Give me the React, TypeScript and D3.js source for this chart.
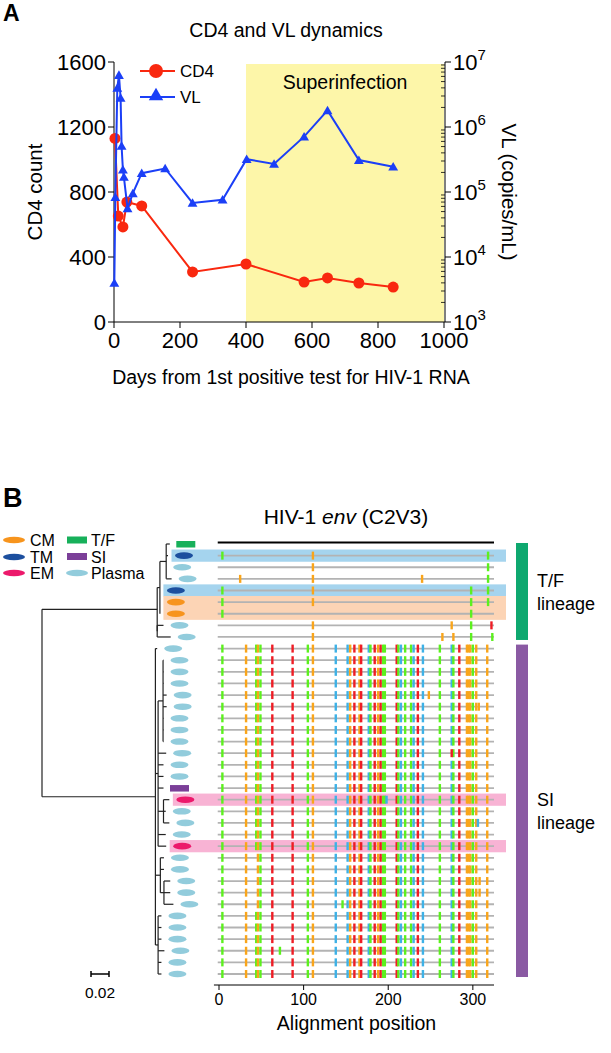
import React from "react";
import * as d3 from "d3";

// ---------- Panel A data ----------
const cd4Days = [3, 13, 27, 39, 84, 238, 400, 576, 647, 742, 846];
const cd4Counts = [1130, 652, 585, 738, 714, 308, 357, 246, 271, 240, 215];
const vlDays = [1, 4, 10, 15, 20, 23, 27, 30, 41, 57, 84, 155, 238, 329, 402, 485, 576, 647, 742, 846];
const vlCopies = [4000, 83000, 4.0e6, 6.3e6, 2.8e6, 5.1e5, 2.2e5, 1.7e5, 5.6e4, 9.5e4, 1.95e5, 2.3e5, 6.8e4, 7.6e4, 3.2e5, 2.7e5, 7.1e5, 1.8e6, 3.1e5, 2.45e5];
const dayTicks = [0, 200, 400, 600, 800, 1000];
const cd4Ticks = [0, 400, 800, 1200, 1600];
const vlExponents = [3, 4, 5, 6, 7];
const superinfectionDays = [400, 1000];

// ---------- Panel B data ----------
const rowTypes = [
  "TF", "TM", "Plasma", "Plasma", "TM", "CM", "CM", "Plasma", "Plasma",
  "Plasma", "Plasma", "Plasma", "Plasma", "Plasma", "Plasma", "Plasma", "Plasma", "Plasma", "Plasma", "Plasma", "Plasma",
  "SI", "EM", "Plasma", "Plasma", "Plasma", "EM",
  "Plasma", "Plasma", "Plasma", "Plasma", "Plasma", "Plasma", "Plasma", "Plasma", "Plasma", "Plasma", "Plasma",
];
const tfLineageRows = [0, 8];
const siLineageRows = [9, 37];
const highlightRows = [[1], [4], [5, 6], [22], [26]];

type TreeNode = { len: number; row?: number; children?: TreeNode[] };
const leaf = (row: number, len: number): TreeNode => ({ row, len });
const treeData: TreeNode = {
  len: 0,
  children: [
    {
      len: 0.128,
      children: [
        {
          len: 0.003,
          children: [
            { len: 0.007, children: [leaf(0, 0.004), leaf(1, 0.002), leaf(2, 0), leaf(3, 0.006)] },
            leaf(4, 0), leaf(5, 0), leaf(6, 0),
          ],
        },
        { len: 0, children: [leaf(7, 0.007), leaf(8, 0.015)] },
      ],
    },
    {
      len: 0.126,
      children: [
        leaf(9, 0.002),
        {
          len: 0.003,
          children: [
            {
              len: 0.0055,
              children: [leaf(10, 0.0005), leaf(11, 0.0005), leaf(12, 0.0005), leaf(13, 0.004), leaf(14, 0.004), leaf(15, 0.0005), leaf(16, 0.0005), leaf(17, 0.0005)],
            },
            leaf(18, 0.009), leaf(19, 0.006), leaf(20, 0.006), leaf(21, 0.006),
            { len: 0.006, children: [leaf(22, 0.0065), leaf(23, 0.0025), leaf(24, 0.0065)] },
            leaf(25, 0.0085), leaf(26, 0.009),
          ],
        },
        {
          len: 0.0055,
          children: [leaf(27, 0.004), leaf(28, 0.004), { len: 0.004, children: [leaf(29, 0.007), leaf(30, 0.007), leaf(31, 0.0105)] }],
        },
        {
          len: 0.003,
          children: [leaf(32, 0.0037), leaf(33, 0.0037), leaf(34, 0.0037), leaf(35, 0.007), leaf(36, 0.0037), leaf(37, 0.0037)],
        },
      ],
    },
  ],
};

// mutations shared by the SI lineage: [alignment position, colour key]
const siPattern: [number, string][] = [
  [4, "G"], [32, "O"], [44, "G"], [46, "O"], [49, "G"], [63, "R"], [87, "R"], [105, "G"], [111, "O"],
  [138, "B"], [152, "B"], [155, "O"], [160, "R"], [166, "O"], [168, "R"], [177, "B"], [179, "G"], [184, "R"],
  [188, "O"], [191, "R"], [194, "G"], [196, "G"], [210, "R"], [212, "G"], [215, "B"], [220, "G"], [227, "G"],
  [230, "B"], [235, "R"], [241, "B"], [261, "G"], [275, "B"], [277, "G"], [284, "R"], [293, "O"], [295, "O"],
  [297, "O"], [300, "G"], [304, "O"], [317, "O"],
];
// mutations in T/F-lineage rows 1..8
const tfRowMarks: [number, string][][] = [
  [[4, "G"], [111, "O"], [318, "G"]],
  [[111, "O"], [318, "G"]],
  [[25, "O"], [111, "O"], [240, "O"], [318, "G"]],
  [[4, "G"], [111, "O"], [298, "G"], [318, "G"]],
  [[4, "G"], [111, "O"], [298, "G"], [318, "G"]],
  [[4, "G"], [298, "G"]],
  [[111, "O"], [275, "O"], [298, "G"], [322, "R"]],
  [[111, "O"], [264, "O"], [277, "O"], [298, "G"], [323, "G"]],
];
const siExtras: [number, number, string][] = [
  [13, 248, "O"], [14, 307, "O"], [18, 275, "R"], [22, 198, "B"], [24, 306, "B"],
  [29, 308, "O"], [30, 308, "O"], [31, 146, "G"], [35, 72, "G"],
];
const siMissing: [number, number][] = [
  [18, 275], [27, 44], [28, 44], [29, 44], [30, 44], [31, 44],
];
const alignTicks = [0, 100, 200, 300];
const alignLength = 325;

// ---------- styles ----------
const FONT = "Liberation Sans, Arial, Helvetica, sans-serif";
const mutColors: Record<string, string> = { G: "#5cf01e", O: "#f9a51b", R: "#ee1d25", B: "#3eb1e6" };
const typeColors: Record<string, string> = {
  TF: "#17b05a", SI: "#7b3f98", TM: "#1c4f9e", CM: "#f7941d", EM: "#ec196b", Plasma: "#92ccdc",
};
const bgColors: Record<string, string> = { TM: "#a5d4ee", CM: "#fcd4b5", EM: "#f8b3d4" };

function PanelA() {
  const x = d3.scaleLinear().domain([0, 1000]).range([114, 444]);
  const yL = d3.scaleLinear().domain([0, 1600]).range([322, 62]);
  const yR = d3.scaleLog().domain([1e3, 1e7]).range([322, 62]);
  const cd4Line = d3.line<number>().x((_, i) => x(cd4Days[i])).y((d) => yL(d))(cd4Counts) || "";
  const vlLine = d3.line<number>().x((_, i) => x(vlDays[i])).y((d) => yR(d))(vlCopies) || "";
  const tri = d3.symbol(d3.symbolTriangle, 42)() || "";
  const triLeg = d3.symbol(d3.symbolTriangle, 90)() || "";
  const minor: number[] = [];
  vlExponents.slice(0, -1).forEach((e) => {
    for (let m = 2; m <= 9; m++) minor.push(m * Math.pow(10, e));
  });
  const red = "#f9280f";
  const blue = "#1b3ff7";
  return (
    <g fontFamily={FONT}>
      <text x={3} y={21} fontSize={23} fontWeight="bold">A</text>
      <text x={286} y={37} fontSize={19.5} textAnchor="middle">CD4 and VL dynamics</text>
      <rect x={x(superinfectionDays[0])} y={64} width={x(superinfectionDays[1]) - x(superinfectionDays[0])} height={322 - 64} fill="#fdf6a9" />
      <text x={345} y={89} fontSize={19.5} textAnchor="middle">Superinfection</text>
      <line x1={114} x2={114} y1={62} y2={322} stroke="#000" strokeWidth={1} />
      <line x1={114} x2={445} y1={322} y2={322} stroke="#000" strokeWidth={1} />
      <line x1={445} x2={445} y1={62} y2={322} stroke="#000" strokeWidth={1} />
      {cd4Ticks.map((t) => (
        <g key={"l" + t}>
          <line x1={108} x2={114} y1={yL(t)} y2={yL(t)} stroke="#000" />
          <text x={106} y={yL(t) + 8} fontSize={22} textAnchor="end">{t}</text>
        </g>
      ))}
      {dayTicks.map((t) => (
        <g key={"b" + t}>
          <line x1={x(t)} x2={x(t)} y1={322} y2={328} stroke="#000" />
          <text x={x(t)} y={348} fontSize={22} textAnchor="middle">{t}</text>
        </g>
      ))}
      {vlExponents.map((e) => (
        <g key={"r" + e}>
          <line x1={445} x2={451} y1={yR(Math.pow(10, e))} y2={yR(Math.pow(10, e))} stroke="#000" />
          <text x={453} y={yR(Math.pow(10, e)) + 8} fontSize={22}>
            10<tspan dy={-10} fontSize={15}>{e}</tspan>
          </text>
        </g>
      ))}
      {minor.map((v) => (
        <line key={"m" + v} x1={441} x2={445} y1={yR(v)} y2={yR(v)} stroke="#000" strokeWidth={0.8} />
      ))}
      <text transform="translate(42,192) rotate(-90)" fontSize={20.5} textAnchor="middle">CD4 count</text>
      <text transform="translate(502,192) rotate(90)" fontSize={20.5} textAnchor="middle">VL (copies/mL)</text>
      <text x={291} y={384} fontSize={19.5} textAnchor="middle">Days from 1st positive test for HIV-1 RNA</text>
      <path d={cd4Line} fill="none" stroke={red} strokeWidth={2} />
      {cd4Counts.map((c, i) => (
        <circle key={"c" + i} cx={x(cd4Days[i])} cy={yL(c)} r={5.5} fill={red} />
      ))}
      <path d={vlLine} fill="none" stroke={blue} strokeWidth={2} />
      {vlCopies.map((v, i) => (
        <path key={"v" + i} d={tri} transform={`translate(${x(vlDays[i])},${yR(v) + 1})`} fill={blue} />
      ))}
      <line x1={140} x2={175} y1={71} y2={71} stroke={red} strokeWidth={2} />
      <circle cx={156} cy={71} r={7} fill={red} />
      <text x={180} y={77} fontSize={17}>CD4</text>
      <line x1={140} x2={175} y1={97} y2={97} stroke={blue} strokeWidth={2} />
      <path d={triLeg} transform="translate(156,96)" fill={blue} />
      <text x={180} y={103} fontSize={17}>VL</text>
    </g>
  );
}

type Seg = { x1: number; y1: number; x2: number; y2: number };
type Tip = { row: number; x: number; y: number };

function PanelB() {
  const rowY = d3.scaleLinear().domain([0, 37]).range([544, 974]);
  const xA = d3.scaleLinear().domain([0, alignLength]).range([219, 494]);
  const xT = d3.scaleLinear().domain([0, 0.02]).range([42, 60]);

  const segs: Seg[] = [];
  const tips: Tip[] = [];
  const layout = (n: TreeNode, depth: number): { x: number; y: number } => {
    const d = depth + n.len;
    const nx = xT(d);
    if (n.row !== undefined) {
      const t = { row: n.row, x: nx, y: rowY(n.row) };
      tips.push(t);
      return t;
    }
    const kids = (n.children || []).map((c) => layout(c, d));
    const ny = (kids[0].y + kids[kids.length - 1].y) / 2;
    segs.push({ x1: nx, y1: kids[0].y, x2: nx, y2: kids[kids.length - 1].y });
    kids.forEach((k) => segs.push({ x1: nx, y1: k.y, x2: k.x, y2: k.y }));
    return { x: nx, y: ny };
  };
  layout(treeData, 0);
  const tipMap: Record<number, Tip> = {};
  tips.forEach((t) => (tipMap[t.row] = t));
  const labelX = (r: number) => tipMap[r].x + 16;

  const rowMarks: [number, string][][] = rowTypes.map((_, r) => {
    if (r === 0) return [];
    if (r <= tfLineageRows[1]) return tfRowMarks[r - 1];
    const miss = siMissing.filter((m) => m[0] === r).map((m) => m[1]);
    const base = siPattern.filter((p) => !miss.includes(p[0]));
    const extra = siExtras.filter((e) => e[0] === r).map((e) => [e[1], e[2]] as [number, string]);
    return [...base, ...extra];
  });

  const rowH = rowY(1) - rowY(0);
  return (
    <g fontFamily={FONT}>
      <text x={3} y={507} fontSize={27} fontWeight="bold">B</text>
      {[["CM", 540], ["TM", 557], ["EM", 573]].map(([t, y]) => (
        <g key={t as string}>
          <ellipse cx={14} cy={y as number} rx={11} ry={3.2} fill={typeColors[t as string]} />
          <text x={30} y={(y as number) + 6} fontSize={16}>{t}</text>
        </g>
      ))}
      <rect x={67} y={536.5} width={20} height={7} fill={typeColors.TF} />
      <text x={91} y={546} fontSize={16}>T/F</text>
      <rect x={67} y={553} width={20} height={7} fill={typeColors.SI} />
      <text x={91} y={563} fontSize={16}>SI</text>
      <ellipse cx={77} cy={573} rx={11} ry={3.2} fill={typeColors.Plasma} />
      <text x={91} y={579} fontSize={16}>Plasma</text>

      <text x={346} y={524} fontSize={21} textAnchor="middle">
        HIV-1 <tspan fontStyle="italic">env</tspan> (C2V3)
      </text>

      {highlightRows.map((rows, i) => {
        const left = Math.min(...rows.map((r) => labelX(r) - 9)) - 3.5;
        const top = rowY(rows[0]) - rowH / 2 - 0.3;
        const bottom = rowY(rows[rows.length - 1]) + rowH / 2 + 0.3;
        return <rect key={"h" + i} x={left} y={top} width={506 - left} height={bottom - top} fill={bgColors[rowTypes[rows[0]]]} />;
      })}

      {segs.map((s, i) => (
        <line key={"s" + i} x1={s.x1} y1={s.y1} x2={s.x2} y2={s.y2} stroke="#222" strokeWidth={1.2} />
      ))}

      {rowTypes.map((t, r) =>
        t === "TF" || t === "SI" ? (
          <rect key={"k" + r} x={labelX(r) - 9.5} y={rowY(r) - 3} width={19} height={6.5} fill={typeColors[t]} />
        ) : (
          <ellipse key={"k" + r} cx={labelX(r)} cy={rowY(r)} rx={9} ry={3.3} fill={typeColors[t]} />
        )
      )}

      {rowTypes.map((_, r) => (
        <line key={"g" + r} x1={xA(-1.5)} x2={xA(alignLength)} y1={rowY(r) + (r === 0 ? -1.5 : 0)} y2={rowY(r) + (r === 0 ? -1.5 : 0)}
          stroke={r === 0 ? "#000" : "#b3b3b3"} strokeWidth={r === 0 ? 2 : 1.8} />
      ))}
      {rowMarks.map((marks, r) =>
        marks.map(([p, c], j) => (
          <rect key={`m${r}-${j}`} x={xA(p) - 1.2} y={rowY(r) - 4} width={2.4} height={8} fill={mutColors[c]} />
        ))
      )}

      <rect x={516} y={rowY(tfLineageRows[0]) - 1} width={12} height={rowY(tfLineageRows[1]) - rowY(tfLineageRows[0]) + 4} fill="#0ea86f" />
      <rect x={516} y={rowY(siLineageRows[0]) - 4} width={12} height={rowY(siLineageRows[1]) - rowY(siLineageRows[0]) + 7} fill="#8a5aa3" />
      <text x={537} y={587} fontSize={18}>T/F</text>
      <text x={537} y={610} fontSize={18}>lineage</text>
      <text x={537} y={806} fontSize={18}>SI</text>
      <text x={537} y={829} fontSize={18}>lineage</text>

      <line x1={xA(-6)} x2={xA(alignLength)} y1={985} y2={985} stroke="#000" />
      {alignTicks.map((t) => (
        <g key={"a" + t}>
          <line x1={xA(t)} x2={xA(t)} y1={985} y2={990} stroke="#000" />
          <text x={xA(t)} y={1005} fontSize={16} textAnchor="middle">{t}</text>
        </g>
      ))}
      <text x={xA(alignLength / 2)} y={1030} fontSize={19.5} textAnchor="middle">Alignment position</text>

      <line x1={91} x2={91 + xT(0.02) - xT(0)} y1={974} y2={974} stroke="#000" strokeWidth={1.5} />
      <line x1={91} x2={91} y1={971} y2={977} stroke="#000" strokeWidth={1.5} />
      <line x1={91 + xT(0.02) - xT(0)} x2={91 + xT(0.02) - xT(0)} y1={971} y2={977} stroke="#000" strokeWidth={1.5} />
      <text x={100} y={998} fontSize={15.5} textAnchor="middle">0.02</text>
    </g>
  );
}

export default function App() {
  return (
    <svg width={611} height={1053} style={{ position: "absolute", left: 0, top: 0, background: "#fff" }}>
      <rect width={611} height={1053} fill="#fff" />
      <PanelA />
      <PanelB />
    </svg>
  );
}
